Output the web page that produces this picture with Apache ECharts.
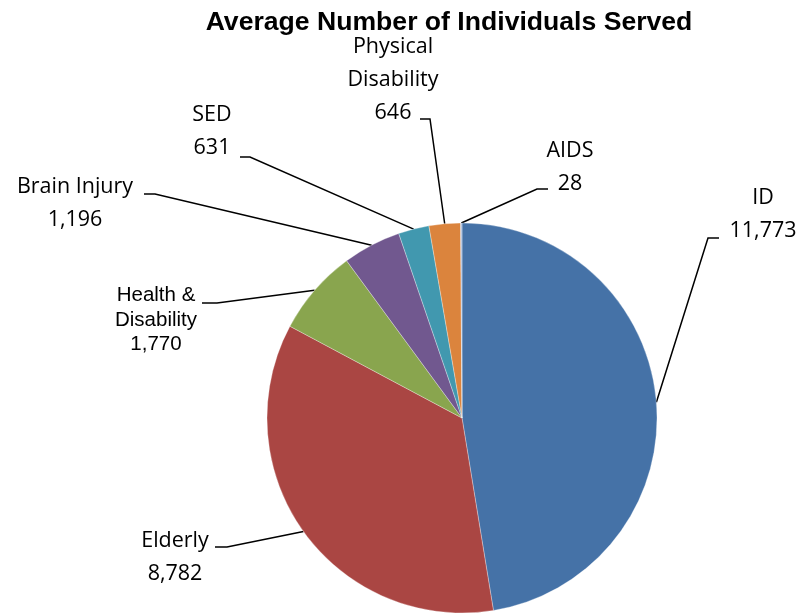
<!DOCTYPE html>
<html>
<head>
<meta charset="utf-8">
<script src="https://cdn.jsdelivr.net/npm/echarts@6/dist/echarts.min.js"></script>
<style>
  html, body { margin: 0; padding: 0; background: #fff; }
  #chart { width: 805px; height: 614px; }
</style>
</head>
<body>
<div id="chart"></div>
<script>
// data
const categories = ['ID', 'Elderly', 'Health &\nDisability', 'Brain Injury', 'SED', 'Physical\nDisability', 'AIDS'];
const values = [11773, 8782, 1770, 1196, 631, 646, 28];
const colors = ['#4572A7', '#AA4643', '#89A54E', '#71588F', '#4198AF', '#DB843D', '#A8BCDD'];

// where each label sits and where its leader line bends (page pixels)
const labelSpots = [
  { x: 763, y: 214, bend: [708, 238], end: [719, 238] },
  { x: 175, y: 557, bend: [227, 547], end: [215, 547] },
  { x: 156, y: 320, bend: [217, 303], end: [202, 303] },
  { x: 75,  y: 203, bend: [155, 194], end: [144, 194] },
  { x: 212, y: 131, bend: [250, 157], end: [240, 157] },
  { x: 393, y: 80,  bend: [430, 119], end: [420, 119] },
  { x: 570, y: 167, bend: [537, 189], end: [548, 189] }
];

const fmt = v => v.toLocaleString('en-US');

const chart = echarts.init(document.getElementById('chart'));

const pieData = categories.map((name, i) => {
  const item = { name: name, value: values[i], itemStyle: { color: colors[i] } };
  if (i === 2) {
    item.label = { fontFamily: 'Liberation Sans, Arial, sans-serif', fontSize: 20.5, lineHeight: 24.5 };
  }
  return item;
});

chart.setOption({
  animation: false,
  title: {
    text: 'Average Number of Individuals Served',
    left: 444,
    top: 4,
    textAlign: 'center',
    textStyle: {
      fontFamily: 'Liberation Sans, Arial, sans-serif',
      fontWeight: 'bold',
      fontSize: 26.6,
      color: '#000'
    }
  },
  series: [{
    type: 'pie',
    center: [462, 418],
    radius: 195,
    startAngle: 90,
    clockwise: true,
    data: pieData,
    itemStyle: { borderColor: 'rgba(255,255,255,0.6)', borderWidth: 0.5 },
    label: {
      show: true,
      position: 'outside',
      formatter: p => p.name + '\n' + fmt(p.value),
      fontFamily: 'Open Sans, Noto Sans, sans-serif',
      fontSize: 21.5,
      lineHeight: 33,
      color: '#000',
      align: 'center'
    },
    labelLine: {
      show: true,
      length: 10,
      length2: 10,
      lineStyle: { color: '#000', width: 1.5 }
    },
    emphasis: { disabled: true },
    labelLayout: params => {
      const s = labelSpots[params.dataIndex];
      const start = params.labelLinePoints ? params.labelLinePoints[0] : s.bend;
      return {
        x: s.x,
        y: s.y,
        align: 'center',
        verticalAlign: 'middle',
        hideOverlap: false,
        moveOverlap: null,
        labelLinePoints: [start, s.bend, s.end]
      };
    }
  }]
});
</script>
</body>
</html>
